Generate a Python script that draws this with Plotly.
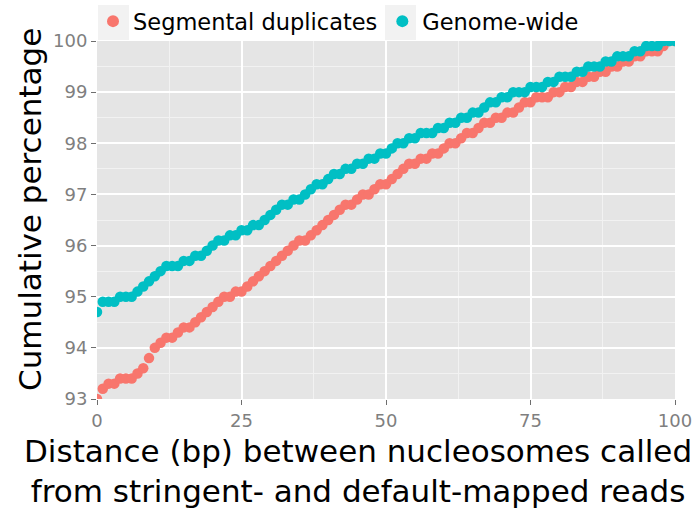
import plotly.graph_objects as go

# Distance (bp) between nucleosome calls
distance = list(range(0, 101))

# Cumulative percentage of nucleosomes within each distance
segmental_duplicates = [
    93.0, 93.2, 93.3, 93.3, 93.4, 93.4, 93.4, 93.5, 93.6, 93.8,
    94.0, 94.1, 94.2, 94.2, 94.3, 94.4, 94.4, 94.5, 94.6, 94.7,
    94.8, 94.9, 95.0, 95.0, 95.1, 95.1, 95.2, 95.3, 95.4, 95.5,
    95.6, 95.7, 95.8, 95.9, 96.0, 96.1, 96.1, 96.2, 96.3, 96.4,
    96.5, 96.6, 96.7, 96.8, 96.8, 96.9, 97.0, 97.0, 97.1, 97.2,
    97.2, 97.3, 97.4, 97.5, 97.6, 97.6, 97.7, 97.7, 97.8, 97.8,
    97.9, 98.0, 98.0, 98.1, 98.2, 98.2, 98.3, 98.4, 98.4, 98.5,
    98.5, 98.6, 98.6, 98.7, 98.8, 98.8, 98.9, 98.9, 98.9, 99.0,
    99.0, 99.1, 99.1, 99.2, 99.2, 99.3, 99.3, 99.4, 99.4, 99.5,
    99.5, 99.6, 99.6, 99.7, 99.7, 99.8, 99.8, 99.8, 99.9, 100.0,
    100.0,
]

genome_wide = [
    94.7, 94.9, 94.9, 94.9, 95.0, 95.0, 95.0, 95.1, 95.2, 95.3,
    95.4, 95.5, 95.6, 95.6, 95.6, 95.7, 95.7, 95.8, 95.8, 95.9,
    96.0, 96.1, 96.1, 96.2, 96.2, 96.3, 96.3, 96.4, 96.4, 96.5,
    96.6, 96.7, 96.8, 96.8, 96.9, 96.9, 97.0, 97.1, 97.2, 97.2,
    97.3, 97.4, 97.4, 97.5, 97.5, 97.6, 97.6, 97.7, 97.7, 97.8,
    97.8, 97.9, 98.0, 98.0, 98.1, 98.1, 98.2, 98.2, 98.2, 98.3,
    98.3, 98.4, 98.4, 98.5, 98.5, 98.6, 98.6, 98.7, 98.8, 98.8,
    98.9, 98.9, 99.0, 99.0, 99.0, 99.1, 99.1, 99.1, 99.2, 99.2,
    99.3, 99.3, 99.3, 99.4, 99.4, 99.5, 99.5, 99.5, 99.6, 99.6,
    99.7, 99.7, 99.7, 99.8, 99.8, 99.9, 99.9, 99.9, 100.0, 100.0,
    100.0,
]

x_ticks = [0, 25, 50, 75, 100]
y_ticks = [93, 94, 95, 96, 97, 98, 99, 100]

FONT = "DejaVu Sans"
RED = "#F8766D"
CYAN = "#00BFC4"
TICK_GREY = "#7F7F7F"

# Plot-area geometry in pixels (used to place the legend keys and titles)
W, H = 696, 514
L, R, T, B = 97, 21, 41, 115
PW, PH = W - L - R, H - T - B


def px_x(px):
    return (px - L) / PW


def px_y(py):
    return (H - B - py) / PH


fig = go.Figure()
fig.add_trace(go.Scatter(
    x=distance, y=segmental_duplicates, mode="markers",
    name="Segmental duplicates",
    marker=dict(color=RED, size=10.5, line=dict(width=0)),
))
fig.add_trace(go.Scatter(
    x=distance, y=genome_wide, mode="markers",
    name="Genome-wide",
    marker=dict(color=CYAN, size=10.5, line=dict(width=0)),
))

axis_common = dict(
    showline=False, zeroline=False,
    ticks="outside", ticklen=5, tickwidth=1.2, tickcolor="#6E6E6E",
    gridcolor="white", gridwidth=1.6,
    tickfont=dict(family=FONT, size=18, color=TICK_GREY),
)

fig.update_layout(
    width=W, height=H,
    margin=dict(l=L, r=R, t=T, b=B, autoexpand=False),
    paper_bgcolor="white",
    plot_bgcolor="#E5E5E5",
    font=dict(family=FONT, color="black"),
    xaxis=dict(
        range=[0, 100], tickvals=x_ticks,
        minor=dict(tickvals=[12.5, 37.5, 62.5, 87.5], showgrid=True,
                   gridcolor="#F2F2F2", gridwidth=0.6, ticks=""),
        **axis_common,
    ),
    yaxis=dict(
        range=[93, 100], tickvals=y_ticks,
        minor=dict(tickvals=[93.5, 94.5, 95.5, 96.5, 97.5, 98.5, 99.5],
                   showgrid=True, gridcolor="#F2F2F2", gridwidth=0.6, ticks=""),
        **axis_common,
    ),
    legend=dict(
        orientation="h", x=93 / W, y=1.0, xanchor="left", yanchor="top",
        xref="container", yref="container",
        bgcolor="rgba(0,0,0,0)", font=dict(family=FONT, size=22.5, color="black"),
        itemsizing="constant", traceorder="normal",
    ),
    showlegend=True,
)

# Light grey key boxes behind the legend symbols
for x0 in (98, 385):
    fig.add_shape(
        type="rect", xref="paper", yref="paper", layer="below",
        x0=px_x(x0), x1=px_x(x0 + 31), y0=px_y(40), y1=px_y(5),
        line=dict(width=0), fillcolor="#F2F2F2",
    )

fig.add_annotation(
    text="Cumulative percentage", textangle=-90,
    xref="paper", yref="paper", x=px_x(30), y=px_y(210),
    xanchor="center", yanchor="middle", showarrow=False,
    font=dict(family=FONT, size=31, color="black"),
)

fig.add_annotation(
    text="Distance (bp) between nucleosomes called<br>from stringent- and default-mapped reads",
    xref="paper", yref="paper", x=px_x(358), y=px_y(471),
    xanchor="center", yanchor="middle", showarrow=False,
    font=dict(family=FONT, size=31, color="black"),
)

fig.write_html("out.html")
